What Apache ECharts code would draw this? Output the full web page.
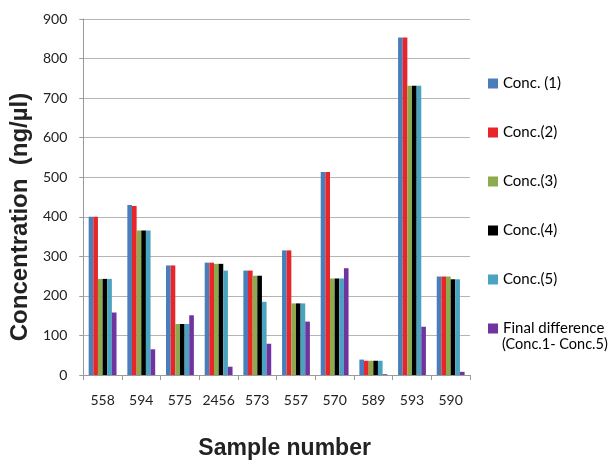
<!DOCTYPE html>
<html><head><meta charset="utf-8">
<script src="https://cdn.jsdelivr.net/npm/echarts@6/dist/echarts.min.js"></script>
<style>html,body{margin:0;padding:0;background:#fff}#c{width:611px;height:470px}</style>
</head><body><div id="c"></div>
<script>
const categories = ['558','594','575','2456','573','557','570','589','593','590'];
const conc1 = [400, 430, 277, 284, 264, 315, 513, 39, 853, 249];
const conc2 = [400, 427, 277, 284, 264, 315, 513, 36, 853, 249];
const conc3 = [243, 365, 129, 281, 251, 181, 244, 36, 731, 249];
const conc4 = [243, 365, 129, 281, 251, 181, 244, 36, 731, 242];
const conc5 = [243, 365, 129, 264, 185, 181, 244, 36, 731, 242];
const finalDiff = [158, 65, 151, 21, 79, 135, 270, 2, 122, 8];
const seriesNames = ['Conc. (1)','Conc.(2)','Conc.(3)','Conc.(4)','Conc.(5)','Final difference'];
const legendSecondLine = '(Conc.1- Conc.5)';
const seriesColors = ['#4A7EBB','#E8262A','#8DAA4C','#000000','#4AA3C0','#7034A0'];
const seriesData = [conc1, conc2, conc3, conc4, conc5, finalDiff];

const chart = echarts.init(document.getElementById('c'), null, {renderer:'canvas'});
chart.setOption({
  animation:false,
  backgroundColor:'#fff',
  grid:{left:74,right:141,top:19,bottom:95},
  legend:{
    orient:'vertical', left:483, top:70, itemGap:32,
    itemWidth:10, itemHeight:10, icon:'rect',
    textStyle:{fontFamily:'Lato', fontSize:15, color:'#000', lineHeight:17},
    data:seriesNames
  },
  graphic:[{
    type:'text', left:502, top:337,
    style:{text:legendSecondLine, fontFamily:'Lato', fontSize:14.5, fill:'#000'}
  }],
  xAxis:{
    type:'category', data:categories,
    name:'Sample number', nameLocation:'middle', nameGap:62,
    nameTextStyle:{fontFamily:'Liberation Sans', fontWeight:'bold', fontSize:23, color:'#222', padding:[0,0,0,16]},
    axisLine:{lineStyle:{color:'#9a9a9a'}},
    axisTick:{show:true, length:5, lineStyle:{color:'#9a9a9a'}},
    axisLabel:{interval:0, fontFamily:'Lato', fontSize:14, color:'#222', margin:18}
  },
  yAxis:{
    type:'value', min:0, max:900, interval:100,
    name:'Concentration  (ng/µl)', nameLocation:'middle', nameGap:50,
    nameTextStyle:{fontFamily:'Liberation Sans', fontWeight:'bold', fontSize:24, color:'#222', padding:[0,40,0,0]},
    axisLine:{show:true, lineStyle:{color:'#9a9a9a'}},
    axisTick:{show:true, length:4, lineStyle:{color:'#9a9a9a'}},
    axisLabel:{fontFamily:'Lato', fontSize:14, color:'#222', margin:16},
    splitLine:{lineStyle:{color:'#b4b4b4', width:1}}
  },
  series: seriesNames.map(function(n,i){
    return {name:n, type:'bar', data:seriesData[i], barGap:'0%', barCategoryGap:'28%',
      itemStyle:{color:seriesColors[i]}};
  })
});
</script></body></html>
